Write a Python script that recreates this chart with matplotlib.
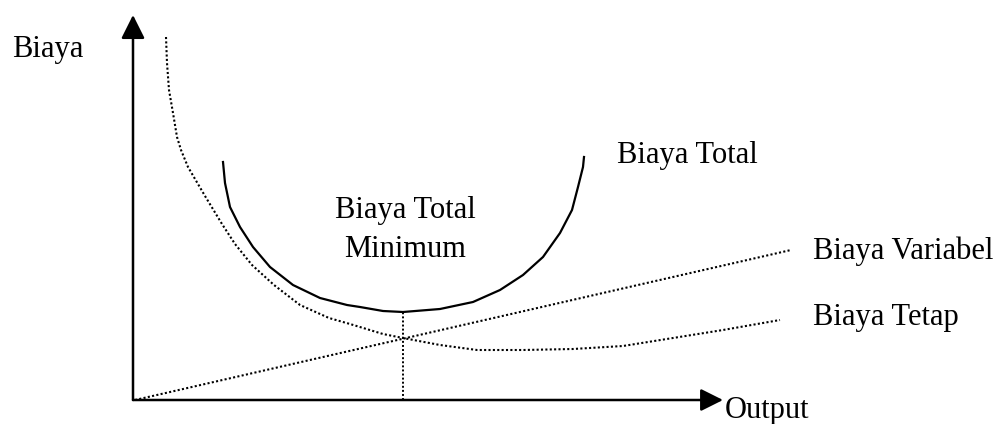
import matplotlib
matplotlib.use('Agg')
import matplotlib.pyplot as plt

plt.rcParams['font.family'] = ['Liberation Serif', 'DejaVu Serif']

# data (output, cost) in arbitrary units
total_x = [9.0, 9.2, 9.7, 10.7, 12.0, 13.7, 16.0, 18.7, 21.4, 22.7, 25.0, 27.0,
           30.7, 34.0, 36.7, 39.0, 41.0, 42.7, 43.9, 44.5, 45.0, 45.1]
total_y = [23.8, 21.7, 19.3, 17.3, 15.3, 13.3, 11.5, 10.2, 9.5, 9.3, 8.9, 8.8,
           9.1, 9.8, 11.0, 12.5, 14.3, 16.7, 19.0, 21.3, 23.3, 24.3]

tetap_x = [3.3, 3.4, 3.6, 4.0, 4.4, 4.8, 5.5, 7.2, 8.9, 10.2, 11.9, 14.1, 16.7,
           19.6, 21.7, 25.0, 27.0, 30.7, 34.4, 39.0, 44.0, 49.0, 54.0, 59.0, 64.7]
tetap_y = [36.3, 33.7, 31.0, 28.7, 26.3, 25.0, 23.3, 20.4, 17.6, 15.6, 13.5, 11.5, 9.5,
           8.2, 7.6, 6.6, 6.2, 5.5, 5.0, 5.0, 5.1, 5.4, 6.2, 7.0, 8.0]

variabel_x = [0.2, 65.8]
variabel_y = [0.0, 15.0]

min_x = 27.0
min_y = 8.8

fig = plt.figure(figsize=(10.08, 4.24), dpi=100)
ax = fig.add_axes([0, 0, 1, 1])
ax.set_xlim(-13.3, 87.5)
ax.set_ylim(-2.4, 40.0)
ax.axis('off')

dots = (0, (1, 1.1))

# axes with arrow heads
ax.annotate('', xy=(0, 38.5), xytext=(0, 0),
            arrowprops=dict(arrowstyle='-|>', mutation_scale=36, lw=1.8, color='black',
                            shrinkA=0, shrinkB=0))
ax.annotate('', xy=(59.0, 0), xytext=(0, 0),
            arrowprops=dict(arrowstyle='-|>', mutation_scale=34, lw=1.8, color='black',
                            shrinkA=0, shrinkB=0))

ax.plot(total_x, total_y, color='black', lw=1.6, solid_joinstyle='round')
ax.plot(tetap_x, tetap_y, color='black', lw=1.5, linestyle=dots)
ax.plot(variabel_x, variabel_y, color='black', lw=1.5, linestyle=dots)
ax.plot([min_x, min_x], [0, min_y], color='black', lw=1.4, linestyle=dots)

fs = 22
ax.text(-12.1, 34.3, 'Biaya', fontsize=fs, va='baseline', ha='left')
ax.text(59.2, -1.8, 'Output', fontsize=fs, va='baseline', ha='left')
ax.text(48.4, 23.7, 'Biaya Total', fontsize=fs, va='baseline', ha='left')
ax.text(27.2, 18.2, 'Biaya Total', fontsize=fs, va='baseline', ha='center')
ax.text(27.2, 14.3, 'Minimum', fontsize=fs, va='baseline', ha='center')
ax.text(68.0, 14.1, 'Biaya Variabel', fontsize=fs, va='baseline', ha='left')
ax.text(68.0, 7.5, 'Biaya Tetap', fontsize=fs, va='baseline', ha='left')

fig.savefig('out.png', dpi=100, facecolor='white')
